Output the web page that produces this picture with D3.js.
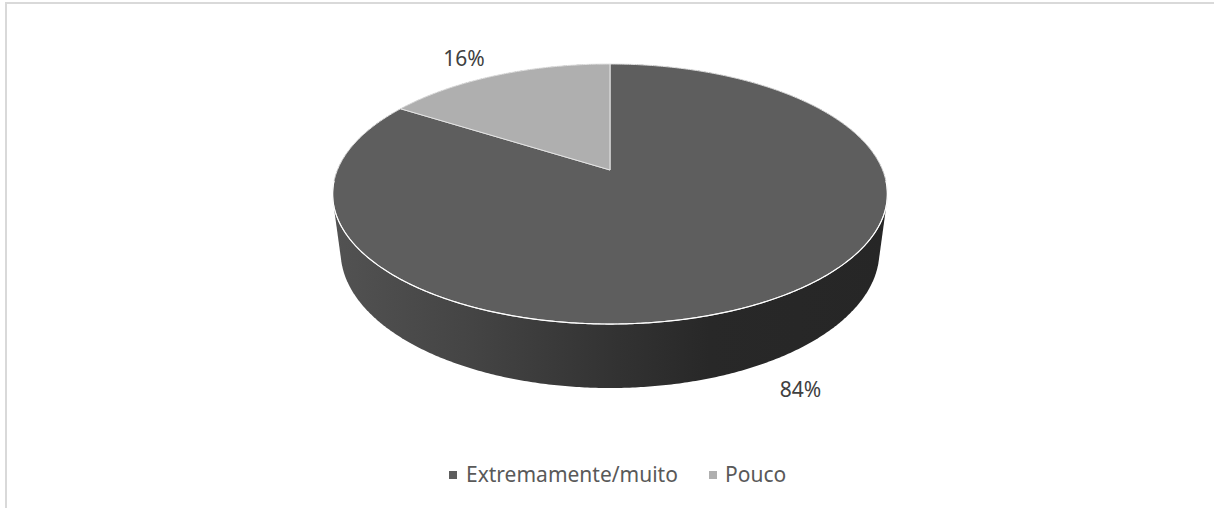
<!DOCTYPE html>
<html><head><meta charset="utf-8">
<script src="https://cdn.jsdelivr.net/npm/d3@7/dist/d3.min.js"></script>
<style>html,body{margin:0;padding:0;background:#fff}svg{display:block}text{font-family:"Noto Sans",sans-serif}</style>
</head><body><svg id="c" width="1214" height="508"></svg>
<script>
const categories = ["Extremamente/muito", "Pouco"];
const values = [84, 16];
const labels = ["84%", "16%"];
const colors = ["#5e5e5e", "#afafaf"];

const svg = d3.select("#c");
const W = 1214, H = 508;
svg.append("rect").attr("width", W).attr("height", H).attr("fill", "#fff");
svg.append("path").attr("d", "M6,508V3H1214").attr("fill", "none").attr("stroke", "#d9d9d9").attr("stroke-width", 2);

// perspective projection of the pie disc (u right, v away, z down)
const cx = 610, cy = 170, X = 272.6, B = 125.6, D = 58.4, k = 0.1846, m = 0.0286;
const proj = (u, v, z) => {
  const w = 1 + k * v + m * z;
  return [cx + X * u / w, cy + (-B * v + D * z) / w];
};
const rim = (a, z) => proj(Math.sin(a), Math.cos(a), z);

const pie = d3.pie().sort(null).value(d => d)(values);
const line = d3.line();

const defs = svg.append("defs");
const g = defs.append("linearGradient").attr("id", "wall").attr("gradientUnits", "userSpaceOnUse")
  .attr("x1", 335).attr("x2", 885).attr("y1", 0).attr("y2", 0);
[[0, "#525252"], [0.25, "#444444"], [0.5, "#333333"], [0.68, "#282828"], [1, "#262626"]]
  .forEach(([o, c]) => g.append("stop").attr("offset", o).attr("stop-color", c));

// side wall: hull of the top and bottom rims
const angles = d3.range(0, 720).map(i => i / 720 * 2 * Math.PI);
const hull = d3.polygonHull(angles.flatMap(a => [rim(a, 0), rim(a, 1)]));
svg.append("path").attr("d", line(hull) + "Z").attr("fill", "url(#wall)");

// top face
pie.forEach((d, i) => {
  const n = Math.ceil((d.endAngle - d.startAngle) * 100);
  const pts = [[cx, cy]].concat(d3.range(n + 1).map(j => rim(d.startAngle + (d.endAngle - d.startAngle) * j / n, 0)));
  svg.append("path").attr("d", line(pts) + "Z").attr("fill", colors[i])
    .attr("stroke", "#e4e4e4").attr("stroke-width", 1).attr("stroke-linejoin", "round");
});
// white front rim
const front = d3.range(0, 361).map(j => rim(Math.PI / 2 + 0.085 + (Math.PI - 0.17) * j / 360, 0));
svg.append("path").attr("d", line(front)).attr("fill", "none").attr("stroke", "#fff").attr("stroke-width", 1.2);

// data labels
const labelPos = [[800.5, 397], [464, 66]];
labels.forEach((t, i) => svg.append("text").attr("x", labelPos[i][0]).attr("y", labelPos[i][1])
  .attr("text-anchor", "middle").attr("font-size", 21).attr("fill", "#404040").text(t));

// legend
const legend = [[449, 466], [709, 725]];
categories.forEach((t, i) => {
  svg.append("rect").attr("x", legend[i][0]).attr("y", 471).attr("width", 8).attr("height", 8).attr("fill", colors[i]);
  svg.append("text").attr("x", legend[i][1]).attr("y", 482).attr("font-size", 21).attr("fill", "#595959").text(t);
});
</script></body></html>
